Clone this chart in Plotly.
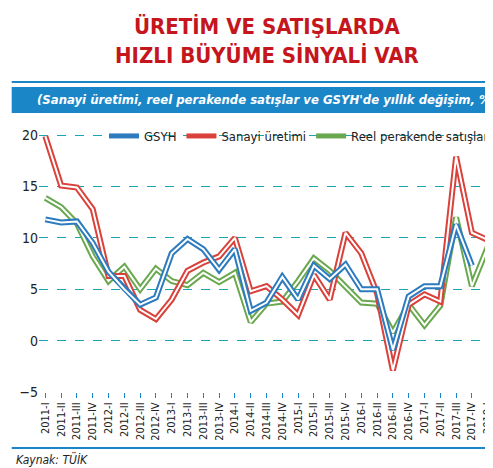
import plotly.graph_objects as go

quarters = ["2011-I", "2011-II", "2011-III", "2011-IV", "2012-I", "2012-II", "2012-III", "2012-IV",
            "2013-I", "2013-II", "2013-III", "2013-IV", "2014-I", "2014-II", "2014-III", "2014-IV",
            "2015-I", "2015-II", "2015-III", "2015-IV", "2016-I", "2016-II", "2016-III", "2016-IV",
            "2017-I", "2017-II", "2017-III", "2017-IV", "2018-I"]

gsyh = [11.8, 11.5, 11.6, 9.5, 6.7, 5.0, 3.5, 4.2, 8.5, 9.9, 8.9, 6.9, 8.9, 2.9, 3.7, 6.2,
        4.0, 7.3, 6.0, 7.4, 5.0, 5.0, -0.9, 4.3, 5.3, 5.3, 11.3, 7.3]
sanayi = [19.9, 15.1, 14.9, 12.8, 6.3, 6.3, 3.0, 2.1, 4.0, 6.8, 7.6, 8.2, 10.0, 4.8, 5.3, 4.0,
          2.5, 6.4, 4.0, 10.5, 8.5, 4.6, -2.9, 3.5, 4.5, 3.8, 17.9, 10.5, 9.8]
perakende = [13.9, 13.0, 11.4, 8.2, 5.8, 7.2, 5.0, 7.0, 5.8, 5.4, 6.6, 5.7, 6.6, 1.8, 3.6, 3.8,
             5.8, 8.0, 6.8, 5.3, 3.7, 3.6, 0.8, 3.5, 1.5, 3.4, 12.0, 5.3, 9.1]

FONT = "DejaVu Sans Condensed, Liberation Sans Narrow, Roboto, Arial"
BLUE = "#1a86c8"

fig = go.Figure()

# outlined lines: wide coloured stroke with a thin white core
series = [("Reel perakende satışlar", perakende, "#6aa84f"),
          ("Sanayi üretimi", sanayi, "#d9413a"),
          ("GSYH", gsyh, "#2c7bbf")]
for name, vals, col in series:
    xs = list(range(len(vals)))
    fig.add_trace(go.Scatter(x=xs, y=vals, mode="lines", line=dict(color=col, width=6),
                             showlegend=False, hoverinfo="skip"))
    fig.add_trace(go.Scatter(x=xs, y=vals, mode="lines", line=dict(color="white", width=2),
                             name=name, showlegend=False))

for name, vals, col in series[::-1]:
    fig.add_trace(go.Scatter(x=[None], y=[None], mode="lines", name=name,
                             line=dict(color=col, width=5)))

H0, H1 = 122, 384
def py(p):
    return (H1 - p) / (H1 - H0)

fig.update_layout(
    width=493, height=468,
    margin=dict(l=31, r=7, t=H0, b=468 - H1),
    paper_bgcolor="white", plot_bgcolor="white",
    font=dict(family=FONT, size=13, color="#222"),
    legend=dict(orientation="h", x=1.0, y=py(128), yanchor="middle", xanchor="right",
                bgcolor="rgba(255,255,255,0)", font=dict(size=13, color="#222"),
                itemwidth=30, traceorder="normal", entrywidthmode="pixels"),
    xaxis=dict(range=[-0.4, 28.4], tickmode="array", tickvals=list(range(len(quarters))),
               ticktext=quarters, tickangle=-90, showgrid=False, zeroline=False,
               ticks="outside", ticklen=5, tickcolor=BLUE,
               tickfont=dict(size=11, color="#222", family=FONT)),
    yaxis=dict(range=[-5, 20.5], tickvals=[-5, 0, 5, 10, 15, 20], showgrid=True,
               gridcolor="#1aa5b5", griddash="dash", gridwidth=1, zeroline=False,
               tickfont=dict(size=14, color="#222", family=FONT)),
    shapes=[
        dict(type="line", xref="paper", yref="paper", x0=-0.06, x1=1.01, y0=py(74), y1=py(74),
             line=dict(color=BLUE, width=2)),
        dict(type="rect", xref="paper", yref="paper", x0=-0.06, x1=1.01, y0=py(105), y1=py(79),
             fillcolor=BLUE, line=dict(width=0)),
        dict(type="line", xref="paper", yref="paper", x0=-0.06, x1=1.01, y0=py(440), y1=py(440),
             line=dict(color=BLUE, width=2)),
    ],
    annotations=[
        dict(text="<b>ÜRETİM VE SATIŞLARDA<br>HIZLI BÜYÜME SİNYALİ VAR</b>", xref="paper", yref="paper",
             x=0.5, y=py(33), yanchor="middle", showarrow=False,
             font=dict(size=22, color="#c4161c", family=FONT)),
        dict(text="<b><i>(Sanayi üretimi, reel perakende satışlar ve GSYH'de yıllık değişim, %)</i></b>",
             xref="paper", yref="paper", x=0.5, y=py(92), yanchor="middle", showarrow=False,
             font=dict(size=13, color="white", family=FONT)),
        dict(text="<i>Kaynak: TÜİK</i>", xref="paper", yref="paper", x=-0.055, xanchor="left",
             y=py(451), yanchor="middle", showarrow=False,
             font=dict(size=12, color="#222", family=FONT)),
    ],
)

fig.write_html("out.html")
